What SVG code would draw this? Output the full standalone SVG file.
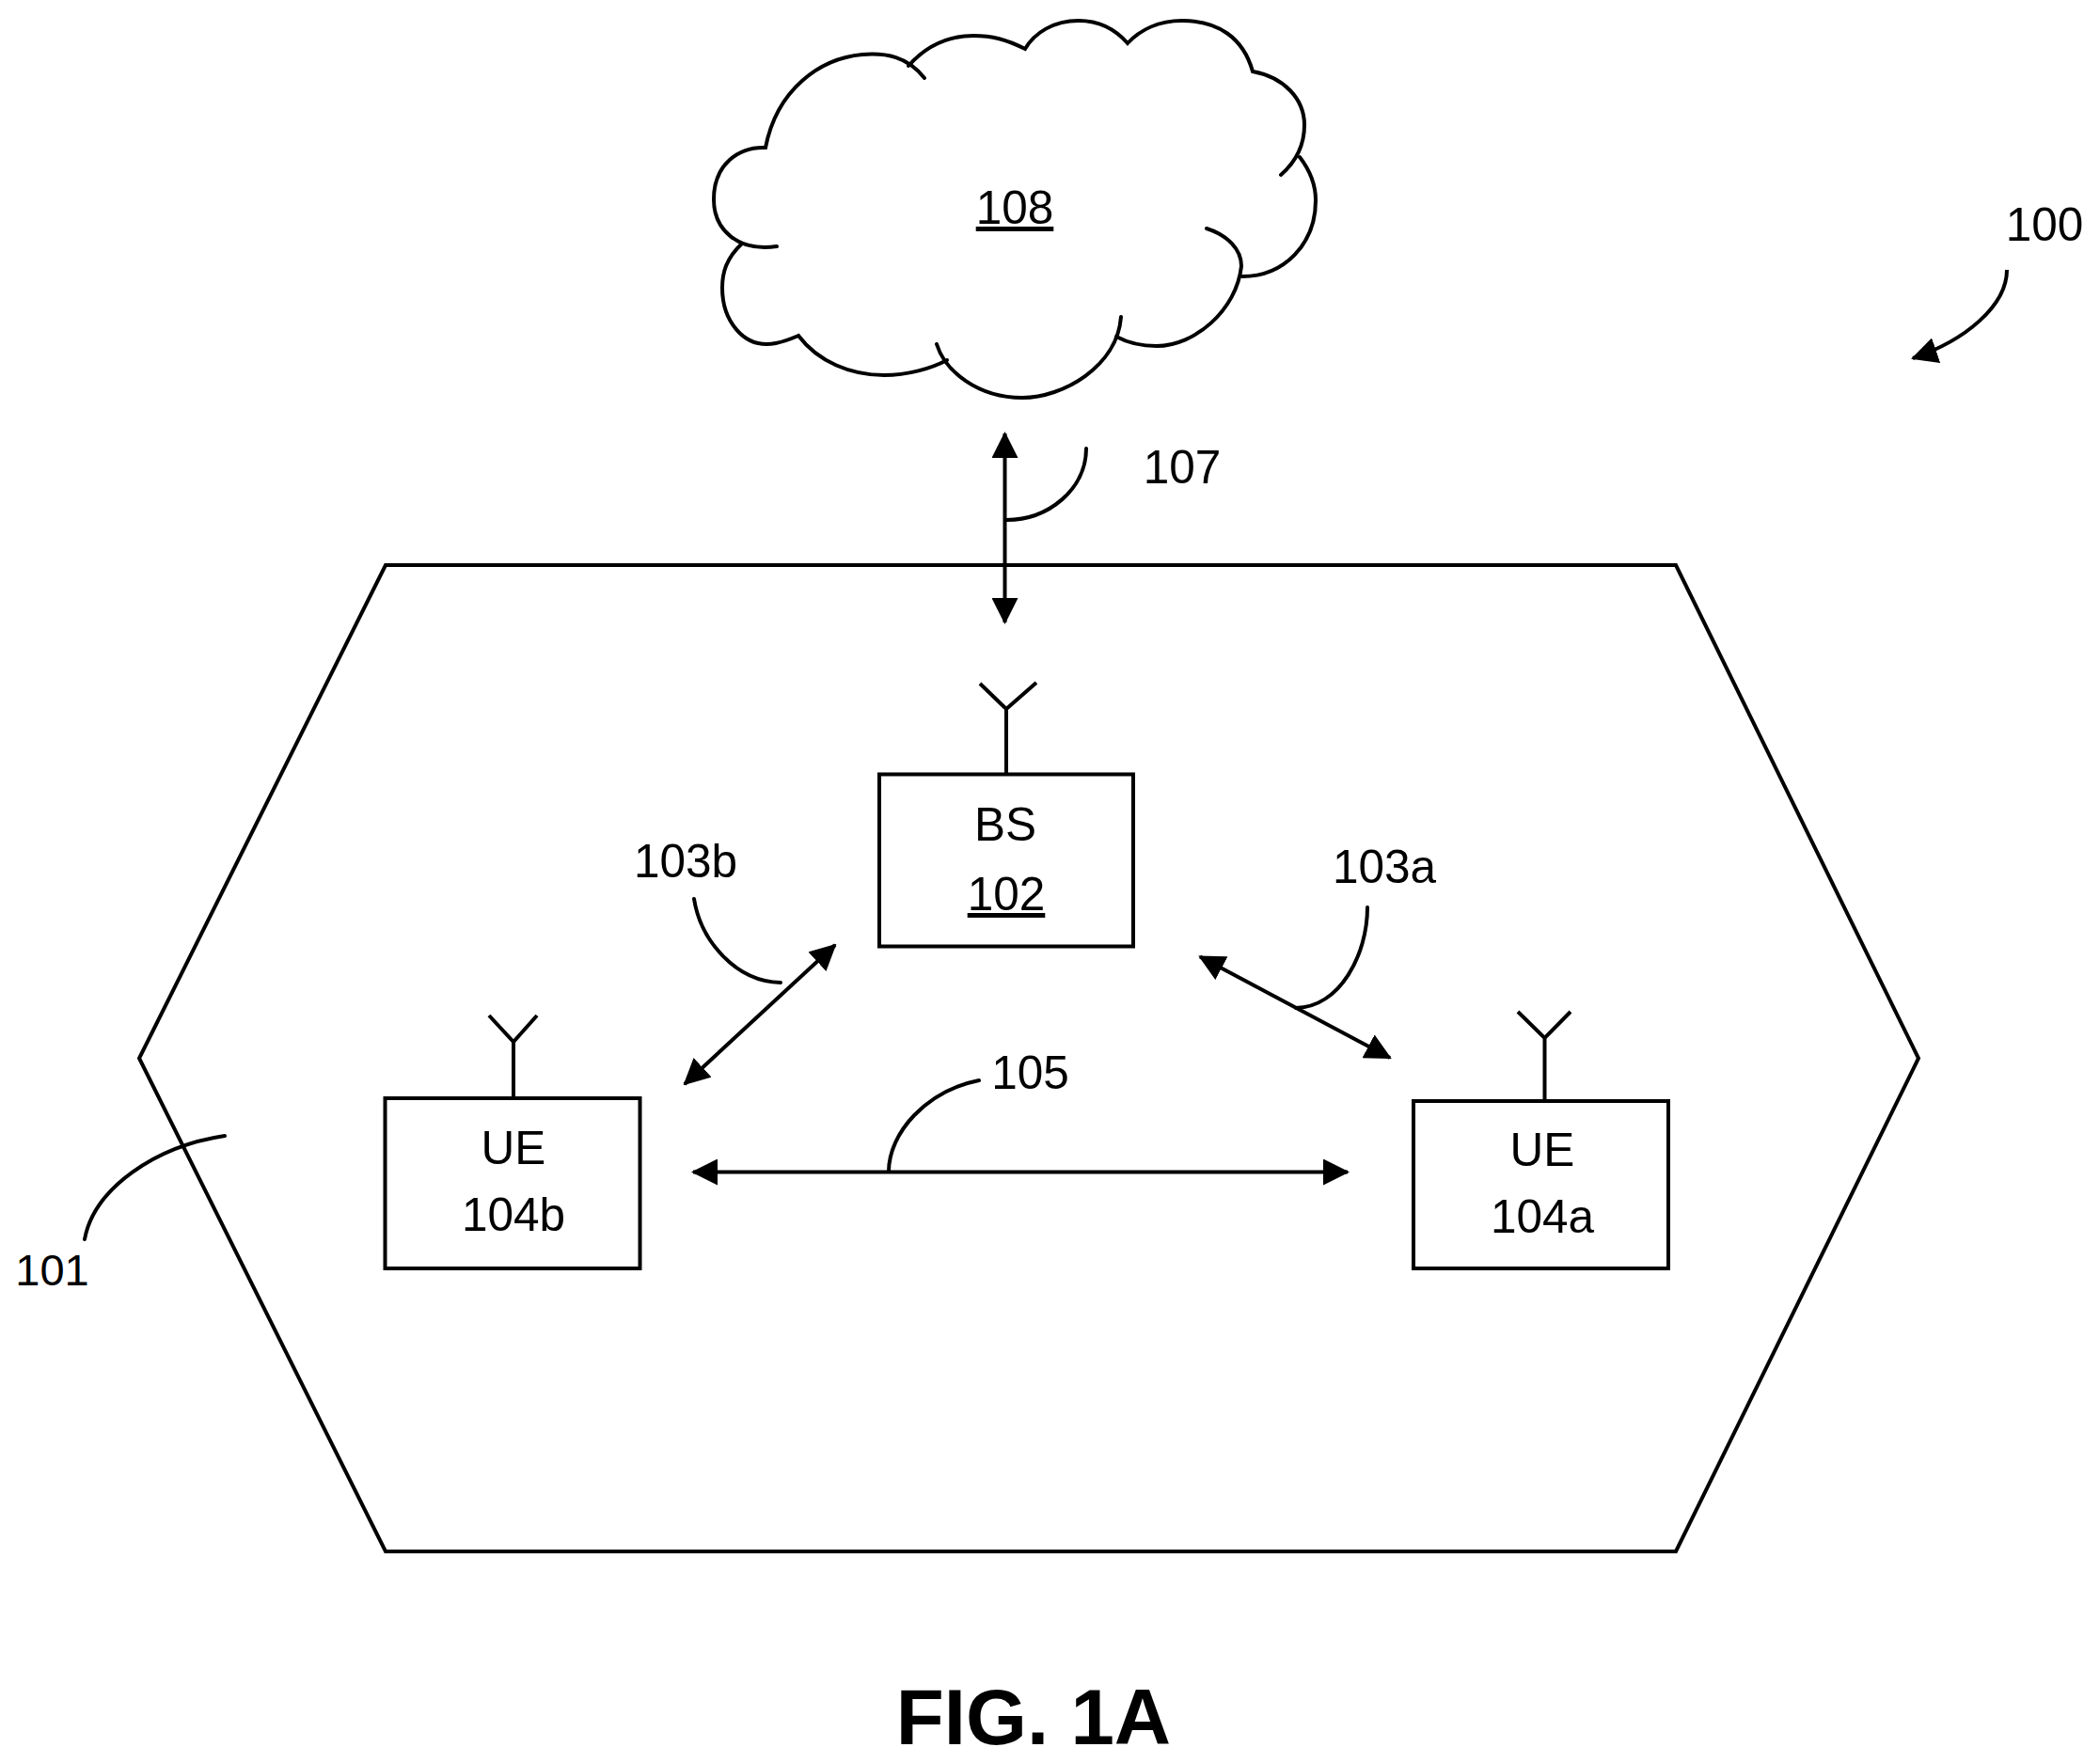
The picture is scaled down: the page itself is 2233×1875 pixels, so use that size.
<svg xmlns="http://www.w3.org/2000/svg" width="2233" height="1875" viewBox="0 0 2233 1875">
<style>
.l{fill:none;stroke:#000;stroke-width:4;stroke-linecap:butt;stroke-linejoin:miter}
.b{fill:#fff;stroke:#000;stroke-width:4}
.c{fill:none;stroke:#000;stroke-width:4;stroke-linecap:round}
.a{fill:none;stroke:#000;stroke-width:4;marker-start:url(#h);marker-end:url(#h)}
.s{fill:none;stroke:#000;stroke-width:4;marker-end:url(#h)}
text{font-family:"Liberation Sans",Arial,sans-serif;font-size:49.500px;fill:#000;text-anchor:middle}
.f{font-size:83.500px;font-weight:700}
.u{text-decoration:underline}
</style>
<defs><marker id="h" markerUnits="userSpaceOnUse" viewBox="0 0 28 28" refX="26" refY="14" markerWidth="28" markerHeight="28" orient="auto-start-reverse"><path d="M0 0L28 14L0 28Z" fill="#000"/></marker></defs>
<rect width="2233" height="1875" fill="#fff"/>
<g id="cell-101"><path class="l" d="M410 601H1782L2040 1125.500L1782 1650H410L148 1125.500Z"/></g>
<g id="cloud-108">
<path class="c" d="M983 83C965 60 942 56 917 58C872 62 826 95 814 157C785 156 759 175 759 212C759 245 785 268 826 262"/>
<path class="c" d="M789 259C772 275 768 290 768 306C768 340 790 372 825 365C835 363 842 360 849 357C870 385 905 399 940 399C965 399 990 392 1007 383"/>
<path class="c" d="M996 366C1005 395 1040 423 1087 423C1130 423 1188 390 1192 337"/>
<path class="c" d="M1187 358C1200 365 1215 368 1230 368C1270 368 1315 330 1320 283C1320 265 1305 250 1283 243"/>
<path class="c" d="M1321 294C1365 294 1399 260 1399 213C1399 195 1392 180 1382 167"/>
<path class="c" d="M1362 186C1378 172 1387 155 1387 133C1387 105 1365 82 1332 76C1322 40 1295 22 1257 22C1232 22 1212 32 1199 46C1185 30 1168 22 1147 22C1120 22 1100 35 1090 52C1070 42 1055 38 1035 38C1005 38 982 52 966 70"/>
<text class="u" x="1079" y="238">108</text>
</g>
<g id="bs-102"><rect class="b" x="935" y="823.500" width="270" height="183"/><path class="l" d="M1070 823V754M1042 727L1070 754L1102 726"/><text x="1069" y="894">BS</text><text class="u" x="1070" y="968">102</text></g>
<g id="ue-104b"><rect class="b" x="409.500" y="1168" width="271" height="181"/><path class="l" d="M546 1168V1108M520 1080L546 1108L571 1080"/><text x="546" y="1238">UE</text><text x="546" y="1309">104b</text></g>
<g id="ue-104a"><rect class="b" x="1503" y="1171" width="271" height="178"/><path class="l" d="M1642.500 1171V1104M1614 1076L1642.500 1104L1670 1076"/><text x="1640" y="1240">UE</text><text x="1640" y="1311">104a</text></g>
<g id="connectors">
<path class="a" d="M1068.500 461V662"/>
<path class="a" d="M728 1153L888 1005"/>
<path class="a" d="M1276 1017.500L1478 1125"/>
<path class="a" d="M737 1246.500H1433"/>
<path class="s" d="M2134 287C2134 325 2090 362 2034 381"/>
<path class="c" d="M1155 477C1155 520 1115 553 1070 553"/>
<path class="c" d="M738 956C745 1000 782 1044 830 1045"/>
<path class="c" d="M1454 965C1454 1015 1425 1071 1378 1072"/>
<path class="c" d="M1041 1149C985 1160 945 1205 945 1246"/>
<path class="c" d="M239 1208C165 1219 100 1264 90 1318"/>
</g>
<g id="labels">
<text x="2174" y="256">100</text><text x="1257" y="514">107</text><text x="729" y="933">103b</text><text x="1472" y="939">103a</text><text x="1095.500" y="1158">105</text><text x="55.500" y="1367" style="font-size:47px">101</text><text class="f" x="1099" y="1855">FIG. 1A</text>
</g>
</svg>
